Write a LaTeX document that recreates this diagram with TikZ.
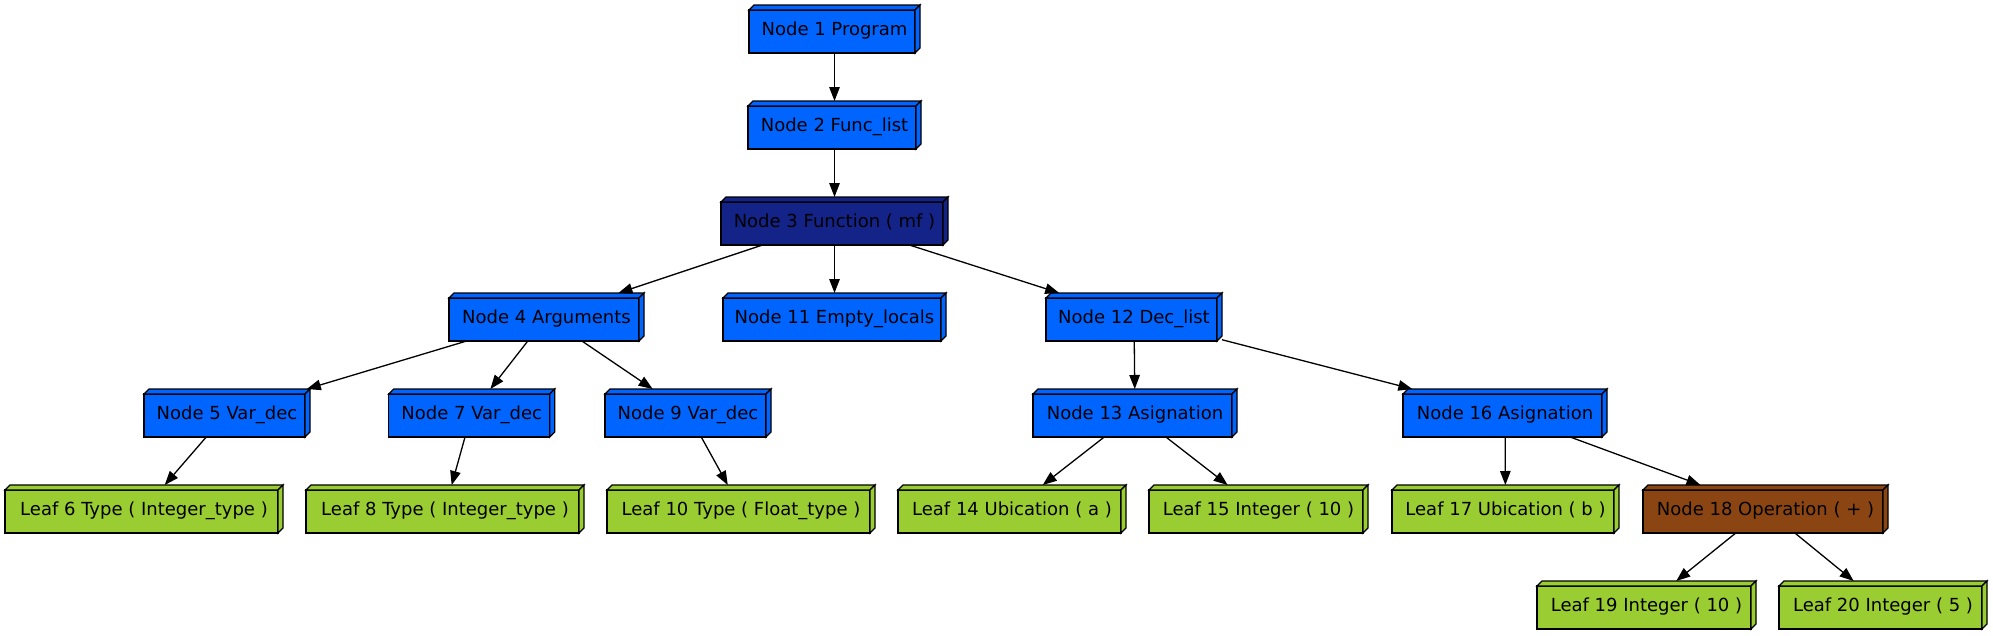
\documentclass[tikz,border=0pt]{standalone}
\usepackage{fontspec}
\setmainfont{DejaVu Sans}
\usetikzlibrary{arrows.meta}
\pgfdeclarelayer{background}
\pgfsetlayers{background,main}
\definecolor{nblue}{RGB}{0,100,255}
\definecolor{ndark}{RGB}{20,35,135}
\definecolor{ngreen}{RGB}{154,205,50}
\definecolor{nbrown}{RGB}{139,69,19}
\begin{document}
\begin{tikzpicture}[x=1pt,y=-1pt,
  bx/.style={minimum height=48pt, minimum width=#1, inner xsep=2pt, inner ysep=0pt, outer sep=0pt,
    font=\fontsize{18pt}{21pt}\selectfont, text depth=0pt},
  face/.style={draw=black, line width=1.3pt, line join=miter},
  edge/.style={draw=black, line width=1.3pt, -{Triangle[length=14pt,width=10.5pt]}}]
\useasboundingbox (0,0) rectangle (1993,635);
% row y: 29,125,221,317,413,509,605
\node[bx=171pt] (n1) at (834.5,29) {Node 1 Program};
\node[bx=173pt] (n2) at (834.5,125) {Node 2 Func\_list};
\node[bx=227pt] (n3) at (834.5,221) {Node 3 Function ( mf )};
\node[bx=195pt] (n4) at (546.5,317) {Node 4 Arguments};
\node[bx=223pt] (n11) at (834.5,317) {Node 11 Empty\_locals};
\node[bx=176pt] (n12) at (1134,317) {Node 12 Dec\_list};
\node[bx=166pt] (n5) at (227,413) {Node 5 Var\_dec};
\node[bx=166pt] (n7) at (471.7,413) {Node 7 Var\_dec};
\node[bx=166pt] (n9) at (688,413) {Node 9 Var\_dec};
\node[bx=204pt] (n13) at (1135,413) {Node 13 Asignation};
\node[bx=204pt] (n16) at (1505,413) {Node 16 Asignation};
\node[bx=278pt] (l6) at (144,509) {Leaf 6 Type ( Integer\_type )};
\node[bx=278pt] (l8) at (445,509) {Leaf 8 Type ( Integer\_type )};
\node[bx=268pt] (l10) at (741,509) {Leaf 10 Type ( Float\_type )};
\node[bx=228pt] (l14) at (1012,509) {Leaf 14 Ubication ( a )};
\node[bx=219pt] (l15) at (1258.5,509) {Leaf 15 Integer ( 10 )};
\node[bx=227pt] (l17) at (1505.5,509) {Leaf 17 Ubication ( b )};
\node[bx=245pt] (n18) at (1765.5,509) {Node 18 Operation ( + )};
\node[bx=219pt] (l19) at (1646.5,605) {Leaf 19 Integer ( 10 )};
\node[bx=208pt] (l20) at (1883,605) {Leaf 20 Integer ( 5 )};
\begin{pgfonlayer}{background}
\foreach \n/\c in {n1/nblue,n2/nblue,n3/ndark,n4/nblue,n11/nblue,n12/nblue,
  n5/nblue,n7/nblue,n9/nblue,n13/nblue,n16/nblue,
  l6/ngreen,l8/ngreen,l10/ngreen,l14/ngreen,l15/ngreen,l17/ngreen,n18/nbrown,
  l19/ngreen,l20/ngreen}{
  \filldraw[face, fill=\c] ([yshift=-5pt]\n.north west) rectangle ([xshift=-5pt]\n.south east);
  \filldraw[face, fill=\c] ([yshift=-5pt]\n.north west) -- ([xshift=5pt]\n.north west)
    -- (\n.north east) -- ([xshift=-5pt,yshift=-5pt]\n.north east) -- cycle;
  \filldraw[face, fill=\c] ([xshift=-5pt,yshift=-5pt]\n.north east) -- (\n.north east)
    -- ([yshift=5pt]\n.south east) -- ([xshift=-5pt]\n.south east) -- cycle;
}
\end{pgfonlayer}
\foreach \a/\b in {n1/n2,n2/n3,n3/n4,n3/n11,n3/n12,n4/n5,n4/n7,n4/n9,n5/l6,n7/l8,
  n9/l10,n12/n13,n12/n16,n13/l14,n13/l15,n16/l17,n16/n18,n18/l19,n18/l20}{
  \draw[edge] (\a) -- (\b);
}
\end{tikzpicture}
\end{document}
